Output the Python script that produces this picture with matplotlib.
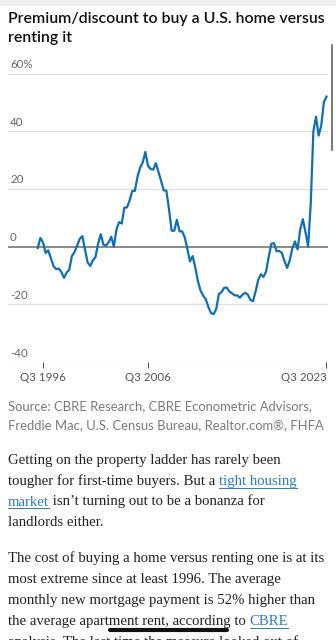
import numpy as np
import matplotlib
matplotlib.use("Agg")
import matplotlib.pyplot as plt
from matplotlib.lines import Line2D
from matplotlib.patches import Rectangle
from matplotlib.font_manager import FontProperties

# Premium (+) / discount (-) of buying vs renting, quarterly from Q1 1996 to Q3 2023, in %
premium = [
    -0.5, 3.0, 1.5, -2.2, -1.3, -4.0, -6.8, -7.8, -7.6, -8.8,
    -10.8, -9.0, -8.0, -3.3, -1.9, 0.3, 2.7, 3.6, -1.0, -5.5,
    -6.7, -4.8, -3.6, 1.0, 4.3, 0.7, 0.3, 1.5, 3.4, 0.0,
    6.0, 8.5, 8.0, 13.5, 13.6, 16.0, 19.3, 19.3, 24.2, 27.4,
    29.2, 32.8, 28.0, 26.9, 26.7, 28.9, 25.8, 22.7, 19.5, 19.4,
    13.0, 5.5, 5.5, 9.3, 5.3, 5.3, 3.2, -0.8, -5.1, -3.3,
    -7.2, -11.9, -15.2, -17.0, -18.2, -20.9, -23.0, -23.4, -21.6, -16.4,
    -15.8, -14.3, -14.2, -15.6, -16.2, -16.9, -16.9, -17.7, -16.7, -16.0,
    -16.6, -18.5, -18.9, -15.5, -11.5, -9.6, -10.5, -8.6, -3.5, 1.0,
    1.2, -1.6, -1.5, -2.2, -5.0, -7.4, -4.8, -0.5, 1.8, -1.0,
    6.0, 9.5, 5.0, 0.0, 15.0, 40.0, 45.0, 38.5, 42.0, 50.0,
    52.0,
]
quarters = 1996.0 + 0.25 * np.arange(len(premium))

y_ticks = [60, 40, 20, 0, -20, -40]
y_labels = ["60%", "40", "20", "0", "-20", "-40"]
x_ticks = [1996.5, 2006.5, 2023.5]
x_labels = ["Q3 1996", "Q3 2006", "Q3 2023"]

title_lines = ["Premium/discount to buy a U.S. home versus", "renting it"]
source_lines = ["Source: CBRE Research, CBRE Econometric Advisors,",
                "Freddie Mac, U.S. Census Bureau, Realtor.com\u00ae, FHFA"]

# body copy: each line is a list of (text, is_link) runs
body = [
    (464, [("Getting on the property ladder has rarely been", False)]),
    (485, [("tougher for first-time buyers. But a ", False), ("tight housing", True)]),
    (505.5, [("market", True), (" isn\u2019t turning out to be a bonanza for", False)]),
    (526, [("landlords either.", False)]),
    (562, [("The cost of buying a home versus renting one is at its", False)]),
    (583, [("most extreme since at least 1996. The average", False)]),
    (604, [("monthly new mortgage payment is 52% higher than", False)]),
    (625, [("the average apartment rent, according to ", False), ("CBRE", True)]),
    (646, [("analysis. The last time the measure looked out of", False)]),
]

W, H = 336, 640
LINE_BLUE = "#0f6fb2"
LINK_BLUE = "#2d7cc0"
SANS = "Lato"
SERIF = "Liberation Serif"


def fx(px):
    return px / W


def fy(py):
    return 1 - py / H


fig = plt.figure(figsize=(W / 100, H / 100), dpi=100)
fig.patch.set_facecolor("white")

# light strip at the very top
fig.add_artist(Rectangle((0, fy(6)), 1, 6 / H, transform=fig.transFigure,
                         facecolor="#eeeeee", edgecolor="none"))

for i, line in enumerate(title_lines):
    fig.text(fx(8), fy(22.5 + 19.5 * i), line, fontsize=11.4, family=SANS,
             weight="semibold", color="#111111", va="baseline")

# chart area
ax = fig.add_axes([fx(8), fy(362), fx(320), (362 - 73.5) / H])
ax.set_xlim(1993.167, 2023.643)
ax.set_ylim(-40, 60)

for v in y_ticks:
    if v == 0:
        ax.axhline(v, color="#6b6b6b", lw=1.1, zorder=2)
    else:
        ax.axhline(v, color="#dedede", lw=0.9, zorder=1)
for v, lab in zip(y_ticks, y_labels):
    ax.annotate(lab, (0, v), xycoords=("axes fraction", "data"),
                xytext=(1.5, 2.5), textcoords="offset points",
                fontsize=8.3, family=SANS, color="#666666",
                ha="left", va="bottom")

ax.plot(quarters, premium, color=LINE_BLUE, lw=1.6, zorder=3,
        solid_joinstyle="round")

for s in ax.spines.values():
    s.set_visible(False)
ax.set_yticks([])
ax.set_xticks(x_ticks)
ax.set_xticklabels(x_labels, fontsize=8.3, family=SANS, color="#555555")
ax.get_xticklabels()[-1].set_horizontalalignment("right")
ax.get_xticklabels()[-1].set_x(x_ticks[-1] + 0.1)
ax.tick_params(axis="x", length=4.5, width=0.8, color="#555555", pad=3)
ax.patch.set_alpha(0)

for i, line in enumerate(source_lines):
    fig.text(fx(8), fy(410.5 + 18.8 * i), line, fontsize=9.4, family=SANS,
             color="#7a7a7a", va="baseline")

# body paragraphs, with underlined links
renderer = fig.canvas.get_renderer()
body_font = FontProperties(family=SERIF, size=10.6)


def run_width(s):
    w1, _, _ = renderer.get_text_width_height_descent("X" + s + "X", body_font, ismath=False)
    w0, _, _ = renderer.get_text_width_height_descent("XX", body_font, ismath=False)
    return w1 - w0


for y, runs in body:
    x = 8
    for text, link in runs:
        col = LINK_BLUE if link else "#222222"
        fig.text(fx(x), fy(y), text, fontproperties=body_font, color=col,
                 va="baseline")
        w = run_width(text)
        if link:
            fig.add_artist(Line2D([fx(x), fx(x + w)], [fy(y + 2.5)] * 2,
                                  color=col, lw=0.7))
        x += w

# scroll indicator and home bar
fig.add_artist(Line2D([fx(332), fx(332)], [fy(45), fy(150)], color="#7d7d7d",
                      lw=1.5, solid_capstyle="round"))
fig.add_artist(Line2D([fx(110), fx(227)], [fy(630), fy(630)], color="#111111",
                      lw=3.0, solid_capstyle="round"))

fig.savefig("out.png", dpi=100)
